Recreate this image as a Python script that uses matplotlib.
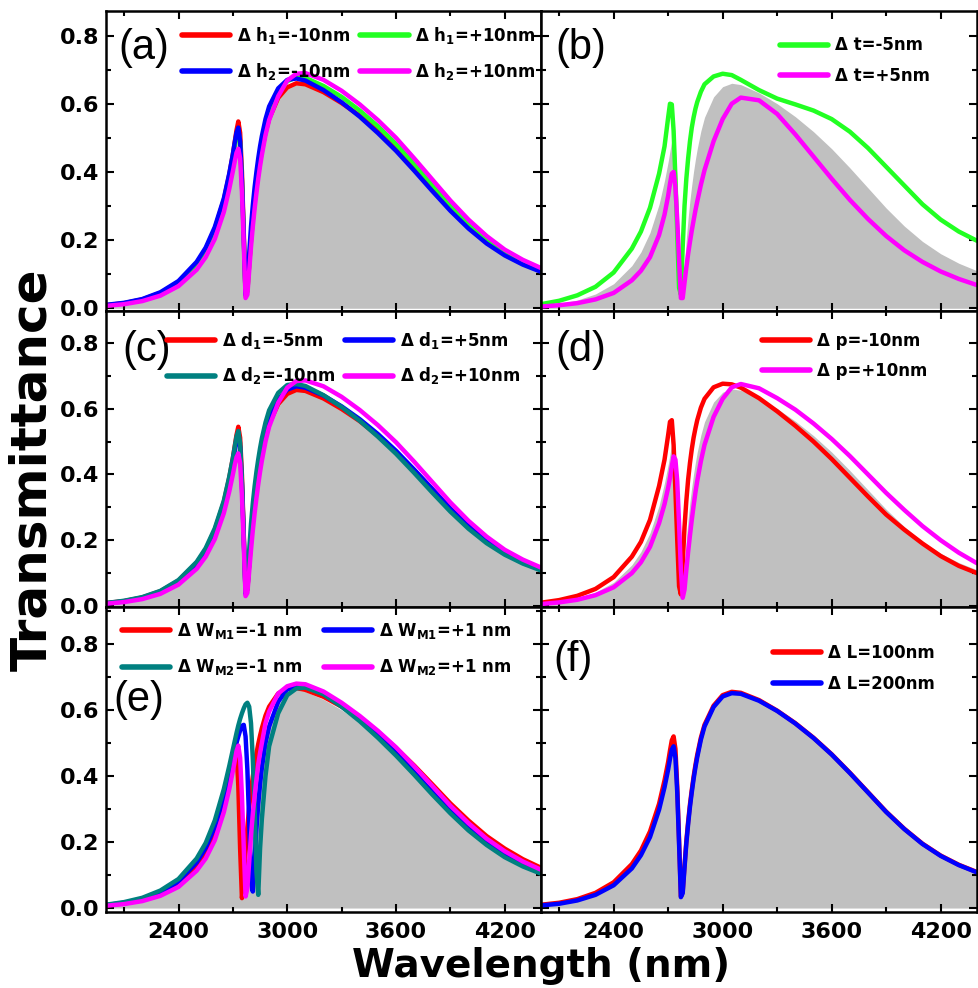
import matplotlib
matplotlib.use("Agg")
import matplotlib.pyplot as plt
from matplotlib.ticker import MultipleLocator

plt.rcParams['font.family'] = ['DejaVu Sans']
plt.rcParams['mathtext.fontset'] = 'dejavusans'
plt.rcParams['mathtext.default'] = 'bf'

# ---------------- data ----------------
WL = [2000, 2100, 2200, 2300, 2400, 2500, 2550, 2600, 2650, 2680, 2700, 2710, 2720, 2730,
      2740, 2750, 2760, 2770, 2780, 2790, 2800, 2810, 2820, 2830, 2840, 2850, 2860, 2880,
      2900, 2950, 3000, 3050, 3100, 3200, 3300, 3400, 3500, 3600, 3700, 3800, 3900, 4000,
      4100, 4200, 4300, 4400]

BASE = [.008, .014, .024, .042, .072, .125, .165, .222, .305, .375, .430, .462, .492, .505,
        .470, .360, .200, .035, .050, .130, .205, .265, .318, .362, .402, .437, .468, .520,
        .560, .620, .650, .660, .656, .632, .600, .562, .518, .468, .412, .353, .294, .241,
        .196, .160, .132, .110]

# (a)
A_H1_M10 = [.009, .015, .026, .045, .077, .132, .173, .232, .318, .392, .452, .487, .522, .548,
            .515, .400, .225, .040, .052, .128, .200, .260, .312, .356, .396, .431, .462, .515,
            .556, .617, .648, .660, .657, .634, .602, .565, .521, .472, .416, .357, .298, .245,
            .200, .163, .135, .113]
A_H1_P10 = [.008, .014, .024, .042, .073, .126, .167, .225, .310, .383, .442, .476, .508, .520,
            .485, .372, .205, .035, .050, .130, .207, .268, .322, .368, .408, .444, .476, .530,
            .572, .634, .666, .678, .676, .652, .620, .580, .534, .482, .424, .363, .302, .248,
            .202, .165, .136, .114]
A_H2_M10 = [.010, .016, .027, .047, .080, .136, .178, .238, .322, .395, .452, .485, .515, .530,
            .490, .375, .210, .040, .068, .160, .240, .302, .355, .400, .440, .475, .505, .555,
            .592, .645, .670, .674, .668, .640, .604, .562, .514, .462, .404, .344, .286, .234,
            .190, .155, .128, .107]
A_H2_P10 = [.007, .012, .021, .037, .065, .113, .150, .203, .282, .350, .402, .430, .456, .468,
            .440, .340, .188, .030, .040, .110, .180, .240, .292, .338, .380, .417, .450, .508,
            .552, .622, .668, .688, .690, .670, .638, .598, .552, .500, .440, .378, .316, .260,
            .212, .172, .142, .118]

# (b)
B_T_M5 = [.012, .022, .038, .063, .105, .175, .225, .295, .395, .475, .560, .600, .598, .520,
          .380, .220, .060, .040, .180, .300, .380, .440, .490, .530, .560, .585, .605, .635,
          .657, .680, .688, .684, .670, .640, .615, .598, .580, .555, .518, .470, .415, .360,
          .305, .260, .225, .198]
B_T_P5 = [.005, .009, .015, .026, .045, .082, .110, .150, .215, .275, .330, .365, .395, .400,
          .355, .260, .140, .030, .030, .075, .120, .160, .195, .228, .258, .287, .313, .362,
          .405, .490, .555, .600, .618, .610, .570, .510, .445, .380, .318, .262, .212, .170,
          .136, .108, .086, .068]

# (c)
C_D1_M5 = [.009, .015, .026, .045, .077, .131, .172, .231, .316, .390, .450, .485, .520, .545,
           .512, .398, .222, .040, .050, .126, .198, .258, .310, .354, .394, .429, .460, .513,
           .554, .614, .645, .657, .654, .631, .599, .562, .518, .469, .413, .355, .296, .244,
           .199, .162, .134, .112]
C_D1_P5 = [.008, .014, .025, .043, .074, .128, .168, .226, .310, .382, .440, .473, .505, .518,
           .483, .370, .205, .036, .052, .132, .208, .268, .322, .367, .407, .442, .474, .527,
           .567, .628, .658, .668, .664, .640, .607, .568, .523, .472, .415, .356, .296, .243,
           .198, .161, .133, .111]
C_D2_M10 = [.009, .016, .027, .046, .079, .134, .176, .236, .320, .393, .450, .483, .515, .532,
            .495, .380, .212, .042, .075, .170, .250, .312, .364, .408, .446, .480, .510, .558,
            .595, .648, .672, .675, .669, .641, .605, .563, .515, .463, .405, .345, .287, .235,
            .191, .156, .129, .108]
C_D2_P10 = [.007, .012, .021, .037, .065, .113, .150, .203, .282, .348, .400, .428, .452, .464,
            .435, .335, .185, .030, .040, .105, .170, .230, .282, .328, .370, .408, .442, .500,
            .545, .618, .664, .684, .686, .668, .636, .596, .550, .498, .439, .377, .315, .259,
            .211, .171, .141, .117]

# (d)
D_P_M10 = [.010, .018, .031, .052, .088, .150, .195, .262, .365, .445, .520, .560, .565, .490,
           .350, .200, .060, .035, .130, .240, .320, .385, .435, .477, .512, .540, .565, .603,
           .630, .665, .676, .674, .664, .632, .592, .548, .500, .447, .390, .333, .278, .232,
           .190, .152, .122, .100]
D_P_P10 = [.006, .011, .019, .033, .057, .100, .133, .180, .252, .310, .360, .390, .425, .455,
           .445, .380, .250, .110, .025, .050, .110, .165, .215, .262, .305, .345, .380, .440,
           .490, .575, .630, .665, .675, .662, .632, .597, .555, .508, .456, .400, .344, .292,
           .243, .200, .162, .130]

# (e)
E_WM1_M1 = [.008, .014, .024, .042, .072, .125, .166, .225, .318, .395, .455, .485, .480, .370,
            .180, .030, .080, .170, .245, .305, .355, .398, .435, .468, .497, .522, .545, .583,
            .610, .650, .664, .666, .661, .640, .610, .575, .533, .485, .432, .375, .317, .265,
            .218, .180, .148, .122]
E_WM1_P1 = [.009, .016, .027, .047, .080, .138, .182, .245, .335, .405, .455, .480, .500, .520,
            .538, .552, .555, .520, .420, .260, .080, .050, .150, .240, .315, .375, .425, .500,
            .550, .625, .662, .674, .672, .648, .612, .570, .522, .470, .412, .352, .294, .242,
            .197, .160, .131, .108]
E_WM2_M1 = [.010, .018, .031, .053, .088, .150, .197, .265, .360, .430, .480, .505, .530, .553,
            .573, .590, .605, .617, .622, .610, .560, .450, .300, .110, .040, .180, .270, .400,
            .490, .590, .645, .665, .668, .648, .610, .566, .516, .462, .404, .344, .287, .235,
            .191, .154, .126, .104]
E_WM2_P1 = [.007, .012, .021, .037, .064, .113, .150, .205, .290, .360, .415, .445, .475, .492,
            .455, .340, .185, .035, .060, .140, .220, .285, .340, .390, .435, .470, .500, .560,
            .595, .650, .672, .680, .678, .656, .622, .582, .537, .487, .430, .370, .310, .257,
            .210, .172, .141, .116]

# (f)
F_L100 = [.010, .016, .027, .046, .078, .133, .174, .232, .316, .387, .443, .477, .508, .520,
          .482, .368, .205, .035, .050, .128, .202, .262, .314, .358, .398, .433, .464, .516,
          .555, .613, .645, .655, .652, .630, .598, .560, .516, .466, .410, .351, .292, .240,
          .195, .159, .131, .109]
F_L200 = [.008, .013, .023, .040, .069, .120, .160, .215, .298, .366, .420, .452, .480, .490,
          .455, .350, .195, .033, .045, .122, .196, .255, .307, .351, .391, .426, .457, .510,
          .550, .609, .641, .651, .649, .628, .597, .559, .515, .465, .409, .350, .291, .239,
          .194, .158, .130, .108]

XTICKS = [2400, 3000, 3600, 4200]
YTICKS = [0.0, 0.2, 0.4, 0.6, 0.8]

RED, GREEN, BLUE, MAG, TEAL = '#ff0000', '#22ff22', '#0000ff', '#ff00ff', '#008080'
GRAY = '#c0c0c0'

panels = [
    ('(a)', [(A_H1_M10, RED, 'Δ h$_1$=-10nm'), (A_H1_P10, GREEN, 'Δ h$_1$=+10nm'),
             (A_H2_M10, BLUE, 'Δ h$_2$=-10nm'), (A_H2_P10, MAG, 'Δ h$_2$=+10nm')]),
    ('(b)', [(B_T_M5, GREEN, 'Δ t=-5nm'), (B_T_P5, MAG, 'Δ t=+5nm')]),
    ('(c)', [(C_D1_M5, RED, 'Δ d$_1$=-5nm'), (C_D1_P5, BLUE, 'Δ d$_1$=+5nm'),
             (C_D2_M10, TEAL, 'Δ d$_2$=-10nm'), (C_D2_P10, MAG, 'Δ d$_2$=+10nm')]),
    ('(d)', [(D_P_M10, RED, 'Δ p=-10nm'), (D_P_P10, MAG, 'Δ p=+10nm')]),
    ('(e)', [(E_WM1_M1, RED, 'Δ W$_{M1}$=-1 nm'), (E_WM1_P1, BLUE, 'Δ W$_{M1}$=+1 nm'),
             (E_WM2_M1, TEAL, 'Δ W$_{M2}$=-1 nm'), (E_WM2_P1, MAG, 'Δ W$_{M2}$=+1 nm')]),
    ('(f)', [(F_L100, RED, 'Δ L=100nm'), (F_L200, BLUE, 'Δ L=200nm')]),
]

# ---------------- layout ----------------
W, H = 979, 988
fig = plt.figure(figsize=(W / 100, H / 100), dpi=100)

cols = [(106, 541), (541, 977)]
rows = [(11, 311), (311, 607), (607, 912)]
ylims = [(-0.008, 0.872), (-0.003, 0.897), (-0.012, 0.912)]

# legend placement: (x frac, y frac, ncol, labelspacing, columnspacing)
leg_pos = [(0.175, 0.955, 2, 0.95, 0.6), (0.548, 0.915, 1, 0.75, 0.6),
           (0.14, 0.935, 2, 0.85, 0.6), (0.507, 0.93, 1, 0.75, 0.6),
           (0.037, 0.955, 2, 1.0, 1.3), (0.532, 0.88, 1, 0.8, 0.6)]
lab_pos = [(0.028, 0.877), (0.032, 0.877), (0.037, 0.868),
           (0.032, 0.868), (0.016, 0.695), (0.028, 0.826)]

for i, (plabel, series) in enumerate(panels):
    r, c = divmod(i, 2)
    x0, x1 = cols[c]
    yt, yb = rows[r]
    ax = fig.add_axes([x0 / W, 1 - yb / H, (x1 - x0) / W, (yb - yt) / H])
    ax.fill_between(WL, BASE, 0, color=GRAY, lw=0, zorder=1)
    handles = []
    for vals, col, lab in series:
        h, = ax.plot(WL, vals, color=col, lw=3.2, label=lab, zorder=2,
                     solid_joinstyle='round', solid_capstyle='round')
        handles.append(h)
    ax.set_xlim(2000, 4400)
    ax.set_ylim(*ylims[r])
    ax.set_xticks(XTICKS)
    ax.set_yticks(YTICKS)
    ax.xaxis.set_minor_locator(MultipleLocator(300))
    ax.yaxis.set_minor_locator(MultipleLocator(0.1))
    ax.tick_params(which='both', direction='in', top=True, right=True, width=1.5,
                   labelsize=16)
    ax.tick_params(which='major', length=6)
    ax.tick_params(which='minor', length=3.5)
    ax.tick_params(axis='y', pad=5)
    ax.tick_params(axis='x', pad=7)
    for lb in ax.get_xticklabels() + ax.get_yticklabels():
        lb.set_fontweight('bold')
    if c == 1:
        ax.set_yticklabels([])
    if r < 2:
        ax.set_xticklabels([])
    for s in ax.spines.values():
        s.set_linewidth(1.8)
    lx, ly, nc, ls, cs = leg_pos[i]
    if nc == 2:
        handles = [handles[0], handles[2], handles[1], handles[3]]
    leg = ax.legend(handles=handles, loc='upper left', bbox_to_anchor=(lx, ly), ncol=nc,
                    frameon=False, borderaxespad=0, borderpad=0, handlelength=2.9,
                    handletextpad=0.4, columnspacing=cs, labelspacing=ls,
                    prop={'weight': 'bold', 'size': 12})
    for ln in leg.get_lines():
        ln.set_linewidth(4)
    px, py = lab_pos[i]
    ax.text(px, py, plabel, transform=ax.transAxes, ha='left', va='center',
            fontsize=30, family='Liberation Sans')

fig.text(541 / W, 1 - 966 / H, 'Wavelength (nm)', ha='center', va='center',
         fontsize=28, fontweight='bold')
fig.text(32 / W, 1 - 470 / H, 'Transmittance', ha='center', va='center',
         rotation=90, fontsize=36, fontweight='bold')

fig.savefig('out.png', dpi=100)
